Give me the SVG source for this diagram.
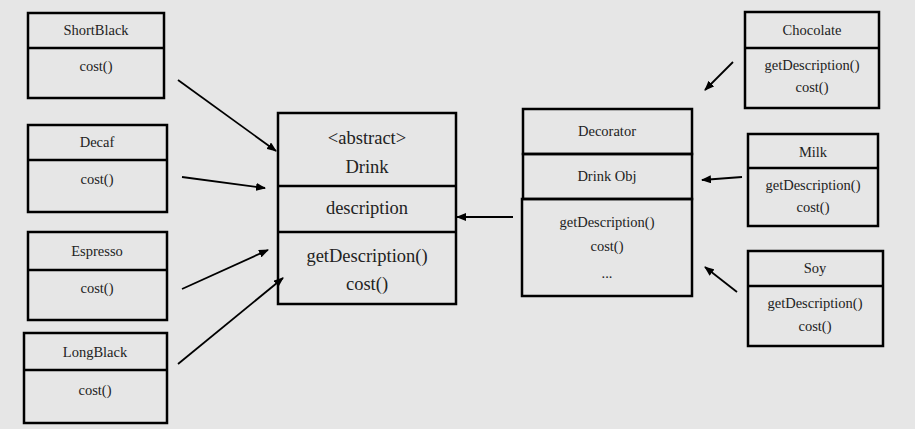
<svg xmlns="http://www.w3.org/2000/svg" width="915" height="429" viewBox="0 0 915 429">
<defs>
<marker id="ah" markerWidth="10" markerHeight="8" refX="9" refY="4" orient="auto" markerUnits="userSpaceOnUse">
<path d="M0,0 L10,4 L0,8 Z" fill="#000"/>
</marker>
<style>
.box{fill:none;stroke:#000;stroke-width:2.5}
.t{font-family:"Liberation Serif","Times New Roman",Times,"Noto Serif","DejaVu Serif",serif;font-size:14.5px;fill:#222;text-anchor:middle;dominant-baseline:central}
.L{font-size:18.5px}
.c{stroke:#000;stroke-width:1.8;fill:none;marker-end:url(#ah)}
</style>
</defs>
<rect x="0" y="0" width="915" height="429" fill="#e6e6e6"/>
<g id="ShortBlack">
<rect class="box" x="28" y="13" width="136" height="85"/>
<line class="box" x1="28" y1="48" x2="164" y2="48"/>
<text class="t" x="96" y="30">ShortBlack</text>
<text class="t" x="96" y="66">cost()</text>
</g>
<g id="Decaf">
<rect class="box" x="28" y="125" width="139" height="87"/>
<line class="box" x1="28" y1="160" x2="167" y2="160"/>
<text class="t" x="97" y="142">Decaf</text>
<text class="t" x="97" y="179">cost()</text>
</g>
<g id="Espresso">
<rect class="box" x="28" y="232" width="139" height="88"/>
<line class="box" x1="28" y1="270" x2="167" y2="270"/>
<text class="t" x="97" y="251">Espresso</text>
<text class="t" x="97" y="288">cost()</text>
</g>
<g id="LongBlack">
<rect class="box" x="24" y="333" width="143" height="90"/>
<line class="box" x1="24" y1="370" x2="167" y2="370"/>
<text class="t" x="95" y="352">LongBlack</text>
<text class="t" x="95" y="390">cost()</text>
</g>

<g id="Drink">
<rect class="box" x="278" y="113" width="178" height="191"/>
<line class="box" x1="278" y1="186" x2="456" y2="186"/>
<line class="box" x1="278" y1="232" x2="456" y2="232"/>
<text class="t L" x="367" y="138">&lt;abstract&gt;</text>
<text class="t L" x="367" y="167">Drink</text>
<text class="t L" x="367" y="208">description</text>
<text class="t L" x="367" y="256">getDescription()</text>
<text class="t L" x="367" y="284">cost()</text>
</g>

<g id="Decorator">
<rect class="box" x="523" y="109" width="169" height="45"/>
<rect class="box" x="523" y="154" width="169" height="45"/>
<rect class="box" x="522" y="199" width="170" height="97"/>
<text class="t" x="607" y="131">Decorator</text>
<text class="t" x="607" y="176">Drink Obj</text>
<text class="t" x="607" y="222">getDescription()</text>
<text class="t" x="607" y="246">cost()</text>
<text class="t" x="607" y="273">...</text>
</g>

<g id="Chocolate">
<rect class="box" x="745" y="12" width="134" height="96"/>
<line class="box" x1="745" y1="48" x2="879" y2="48"/>
<text class="t" x="812" y="30">Chocolate</text>
<text class="t" x="812" y="65">getDescription()</text>
<text class="t" x="812" y="87">cost()</text>
</g>
<g id="Milk">
<rect class="box" x="748" y="134" width="130" height="92"/>
<line class="box" x1="748" y1="168" x2="878" y2="168"/>
<text class="t" x="813" y="152">Milk</text>
<text class="t" x="813" y="185">getDescription()</text>
<text class="t" x="813" y="207">cost()</text>
</g>
<g id="Soy">
<rect class="box" x="748" y="251" width="135" height="95"/>
<line class="box" x1="748" y1="286" x2="883" y2="286"/>
<text class="t" x="815" y="268">Soy</text>
<text class="t" x="815" y="303">getDescription()</text>
<text class="t" x="815" y="326">cost()</text>
</g>

<g id="connectors">
<line class="c" x1="178" y1="80" x2="276" y2="151"/>
<line class="c" x1="182" y1="177" x2="265" y2="188"/>
<line class="c" x1="182" y1="289" x2="268" y2="250"/>
<line class="c" x1="178" y1="364" x2="283" y2="278"/>
<line class="c" x1="513" y1="217" x2="457" y2="217"/>
<line class="c" x1="733" y1="62" x2="705" y2="90"/>
<line class="c" x1="742" y1="177" x2="702" y2="180"/>
<line class="c" x1="737" y1="292" x2="705" y2="267"/>
</g>
</svg>
